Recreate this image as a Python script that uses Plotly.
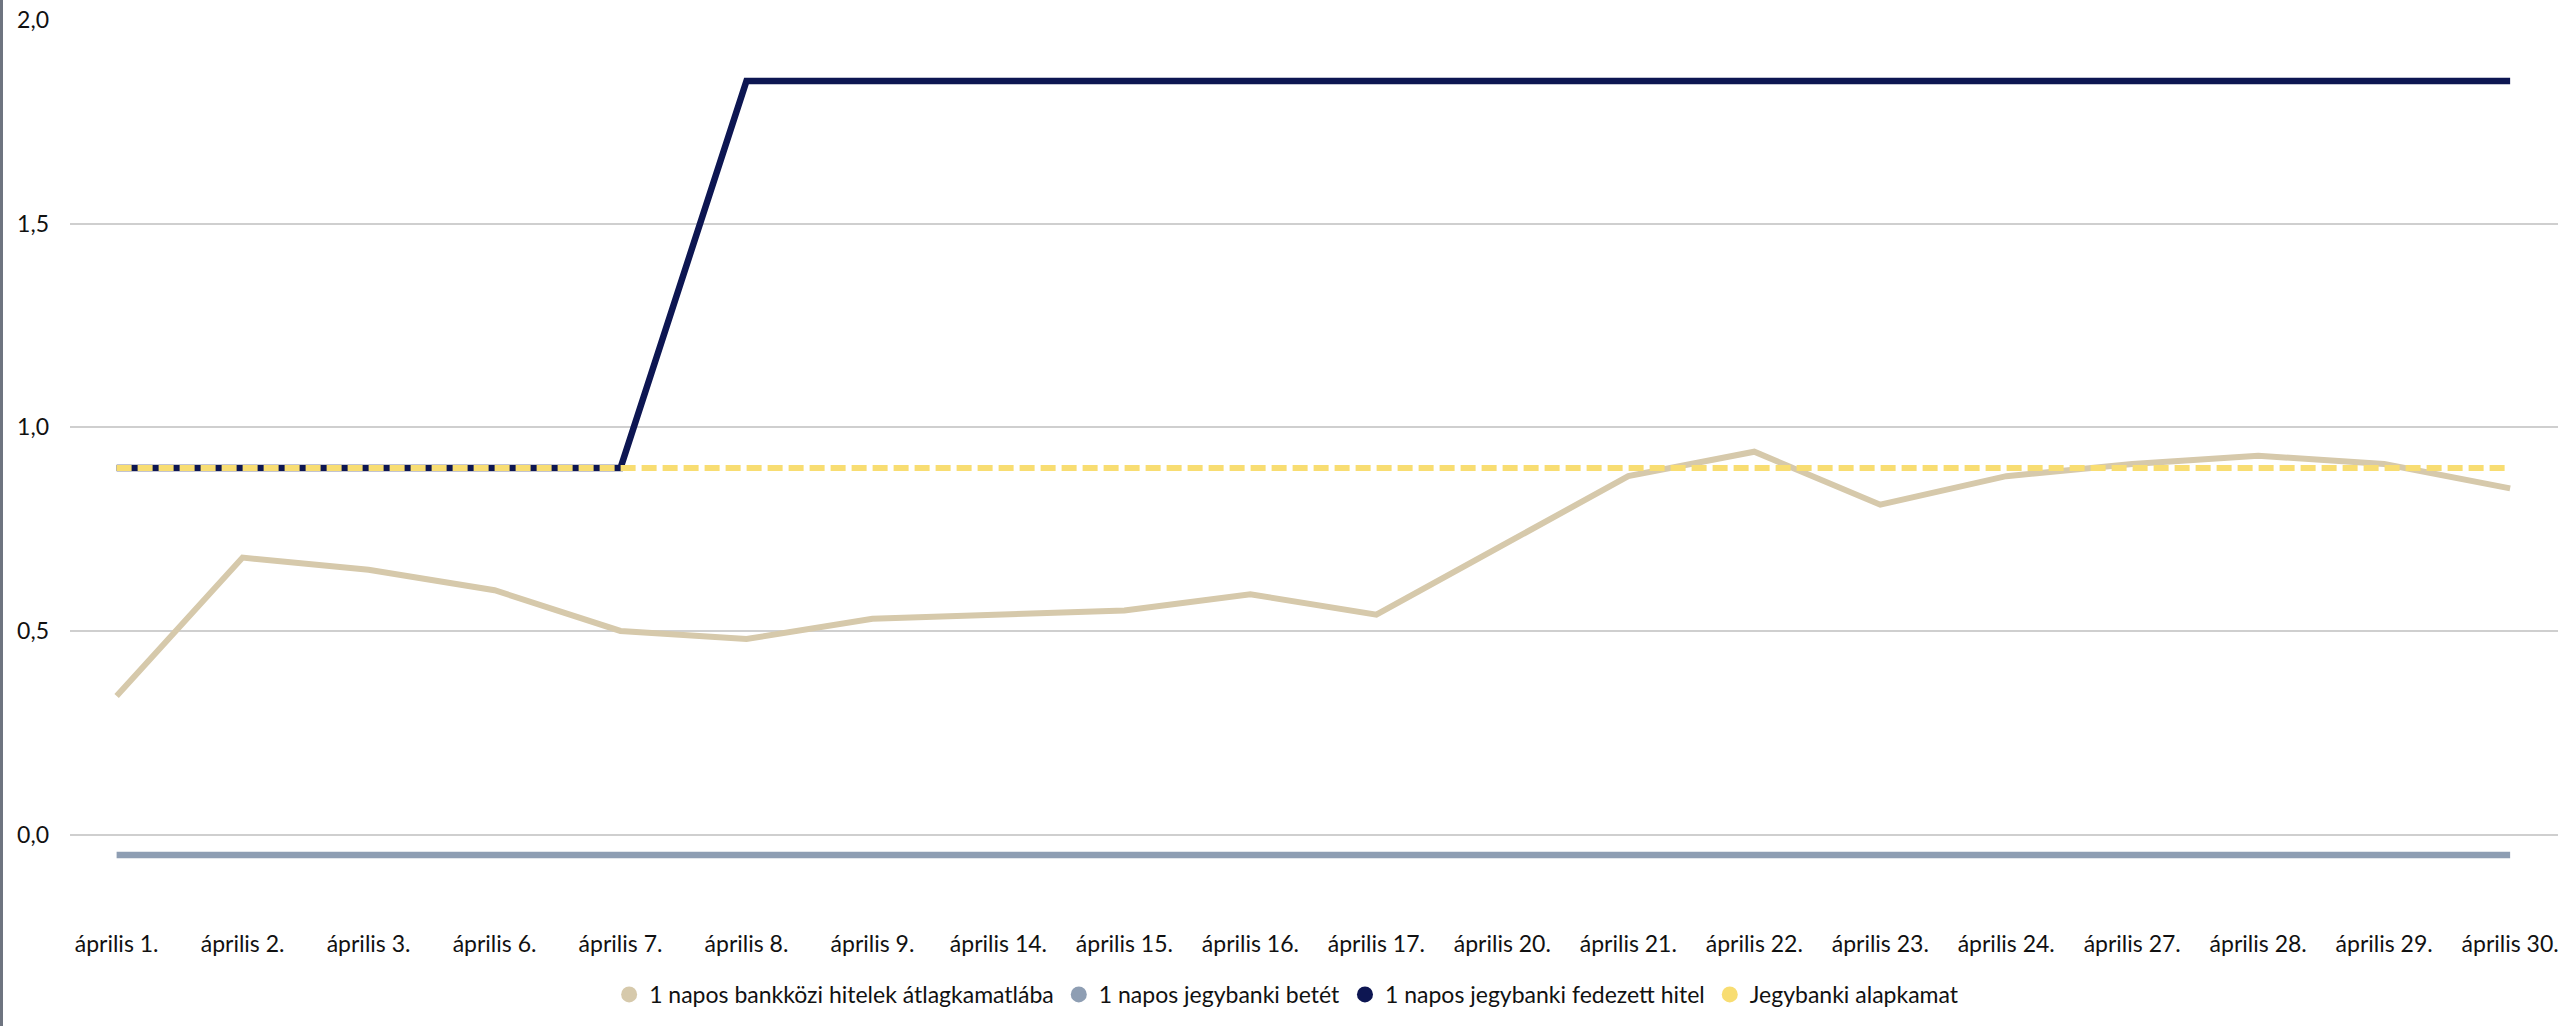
import plotly.graph_objects as go

categories = ["április 1.", "április 2.", "április 3.", "április 6.", "április 7.",
              "április 8.", "április 9.", "április 14.", "április 15.", "április 16.",
              "április 17.", "április 20.", "április 21.", "április 22.", "április 23.",
              "április 24.", "április 27.", "április 28.", "április 29.", "április 30."]

interbank = [0.34, 0.68, 0.65, 0.60, 0.50, 0.48, 0.53, 0.54, 0.55, 0.59,
             0.54, 0.71, 0.88, 0.94, 0.81, 0.88, 0.91, 0.93, 0.91, 0.85]
deposit = [-0.05] * 20
collateral = [0.90, 0.90, 0.90, 0.90, 0.90, 1.85, 1.85, 1.85, 1.85, 1.85,
              1.85, 1.85, 1.85, 1.85, 1.85, 1.85, 1.85, 1.85, 1.85, 1.85]
base_rate = [0.90] * 20

names = ["1 napos bankközi hitelek átlagkamatlába", "1 napos jegybanki betét",
         "1 napos jegybanki fedezett hitel", "Jegybanki alapkamat"]
colors = ["#D6C9AB", "#8E9EB3", "#0D1652", "#F8DD72"]
y_ticks = [0.0, 0.5, 1.0, 1.5, 2.0]

FONT = "Lato"
TXT = "#111111"

fig = go.Figure()
series = [interbank, deposit, collateral, base_rate]
widths = [6, 6.5, 6.5, 6]
dashes = ["solid", "solid", "solid", "15px,6px"]
for s, n, c, w, d in zip(series, names, colors, widths, dashes):
    fig.add_trace(go.Scatter(x=categories, y=s, mode="lines", name=n,
                             line=dict(color=c, width=w, dash=d),
                             showlegend=False, hoverinfo="skip"))
for n, c in zip(names, colors):
    fig.add_trace(go.Scatter(x=[None], y=[None], mode="markers", name=n,
                             marker=dict(color=c, size=20, symbol="circle")))

fig.update_layout(
    width=2562, height=1026, autosize=False,
    margin=dict(l=70, r=4, t=20, b=109.5),
    plot_bgcolor="white", paper_bgcolor="white",
    separators=", ",
    font=dict(family=FONT, size=23, color=TXT),
    showlegend=True,
    legend=dict(orientation="h", x=0.489, xanchor="center", y=-0.0876, yanchor="middle",
                font=dict(family=FONT, size=23, color=TXT),
                itemsizing="trace", tracegroupgap=0, itemwidth=30),
    xaxis=dict(type="category", range=[-0.37, 19.38], showgrid=False, zeroline=False,
               showline=False, ticks="", ticklabelstandoff=12,
               tickfont=dict(family=FONT, size=23, color=TXT)),
    yaxis=dict(range=[-0.2, 2.0], tickvals=y_ticks, tickformat=".1f",
               showgrid=True, gridcolor="#CFCFCF", gridwidth=1.5, zeroline=False,
               showline=False, ticks="", ticklabelstandoff=20,
               tickfont=dict(family=FONT, size=23, color=TXT)),
    shapes=[dict(type="line", xref="paper", yref="paper",
                 x0=(1.5 - 70) / 2488, x1=(1.5 - 70) / 2488, y0=-0.2, y1=1.1,
                 line=dict(color="#6E7480", width=3))],
)

fig.write_html("out.html", config={"displayModeBar": False},
               post_script="document.body.style.margin='0';document.body.style.overflow='hidden';")
